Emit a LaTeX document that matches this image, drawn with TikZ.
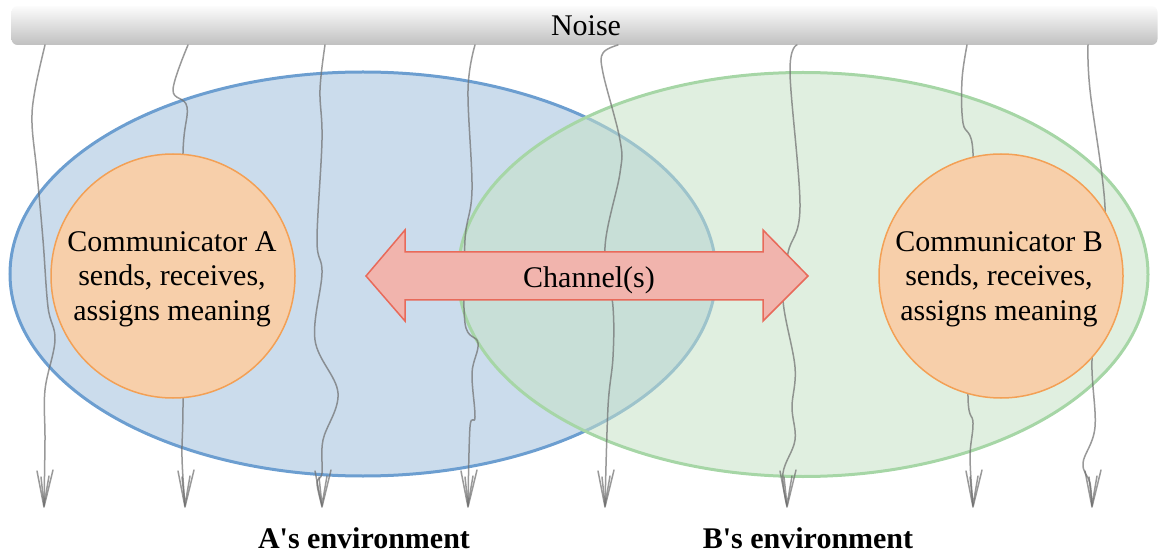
\documentclass[tikz,border=0pt]{standalone}
\usepackage{fontspec}
\setmainfont{Liberation Serif}
\usetikzlibrary{shapes.geometric}
\definecolor{envA}{RGB}{160,191,220}
\definecolor{envAline}{RGB}{108,158,208}
\definecolor{envB}{RGB}{199,226,199}
\definecolor{envBline}{RGB}{166,214,166}
\definecolor{commfill}{RGB}{247,207,170}
\definecolor{commline}{RGB}{243,160,85}
\definecolor{chanfill}{RGB}{241,180,173}
\definecolor{chanline}{RGB}{232,106,90}
\definecolor{noisecol}{RGB}{110,110,110}
\definecolor{bartop}{RGB}{252,252,252}
\definecolor{barbot}{RGB}{192,192,192}
\tikzset{
  envbox/.style={ellipse, inner sep=0pt, line width=3pt, fill opacity=0.55},
  commbox/.style={circle, inner sep=0pt, minimum size=244pt, fill=commfill, draw=commline, line width=1.5pt},
  commtext/.style={inner sep=0pt, align=center, font=\fontsize{30}{34.5}\selectfont},
  plaintext/.style={inner sep=0pt, anchor=base, font=\fontsize{30}{36}\selectfont},
  noiseline/.style={draw=noisecol, line width=1.5pt, draw opacity=0.7, line cap=round, line join=round},
  envlabel/.style={inner sep=0pt, anchor=base, font=\fontsize{30}{36}\selectfont\bfseries},
  noisehead/.pic={
    \draw[noiseline] (-7,-36) -- (0,0) -- (9,-37);
    \draw[noiseline] (-3,-30) -- (0,-2) -- (5,-31);
  }
}
\begin{document}
\begin{tikzpicture}[x=1pt,y=-1pt]
\useasboundingbox (0,0) rectangle (1159,553);
% noise bar
\node[rounded corners=6pt, top color=bartop, bottom color=barbot, minimum width=1146pt, minimum height=39pt, inner sep=0pt] (noise) at (584.5,25.5) {};
\node[plaintext] (noisetxt) at (586,36) {Noise};
% environments
\node[envbox, minimum width=706pt, minimum height=404pt, fill=envA, draw=envAline] (envA) at (363,274) {};
\node[envbox, minimum width=690pt, minimum height=404pt, fill=envB, draw=envBline] (envB) at (803,274.5) {};
% noise lines
\draw[noiseline] plot[smooth, tension=0.6] coordinates {(45,45) (35,90) (32,123) (37,173) (43,240) (48,307) (55,340) (45,390) (45,440) (44,506)};
\draw[noiseline] plot[smooth, tension=0.6] coordinates {(188,45) (173,90) (187,107) (183,153) (183,280) (183,407) (182,457) (185,506)};
\draw[noiseline] plot[smooth, tension=0.6] coordinates {(325,45) (320,90) (322,140) (317,240) (322,273) (315,340) (338,393) (323,440) (322,473) (317,483) (322,506)};
\draw[noiseline] plot[smooth, tension=0.6] coordinates {(475,45) (468,90) (472,190) (465,240) (465,323) (478,343) (472,373) (475,417) (470,427) (468,506)};
\draw[noiseline] plot[smooth, tension=0.6] coordinates {(618,45) (603,53) (603,73) (620,140) (620,173) (605,247) (613,307) (613,357) (608,407) (605,506)};
\draw[noiseline] plot[smooth, tension=0.6] coordinates {(797,45) (790,73) (800,207) (788,253) (783,300) (795,367) (792,407) (795,440) (783,473) (787,506)};
\draw[noiseline] plot[smooth, tension=0.6] coordinates {(967,45) (962,80) (963,123) (973,153) (970,280) (968,397) (973,423) (970,457) (973,506)};
\draw[noiseline] plot[smooth, tension=0.6] coordinates {(1088,45) (1090,90) (1105,207) (1100,290) (1092,360) (1095,427) (1083,463) (1090,483) (1092,506)};
\pic at (44,507) {noisehead};
\pic at (185,507) {noisehead};
\pic at (322,507) {noisehead};
\pic at (468,507) {noisehead};
\pic at (605,507) {noisehead};
\pic at (787,507) {noisehead};
\pic at (973,507) {noisehead};
\pic at (1092,507) {noisehead};
% communicators
\node[commbox] (commA) at (173,276) {};
\node[commtext] (textA) at (172,279) {Communicator A\\sends, receives,\\assigns meaning};
\node[commbox] (commB) at (1001,276) {};
\node[commtext] (textB) at (999,279) {Communicator B\\sends, receives,\\assigns meaning};
% channel
\draw[fill=chanfill, draw=chanline, line width=1.5pt, line join=miter]
  (366,276) -- (405,230) -- (405,252) -- (763,252) -- (763,230) -- (808,276)
  -- (763,321) -- (763,300) -- (405,300) -- (405,321) -- cycle;
\node[plaintext] (chan) at (589,288) {Channel(s)};
% labels
\node[envlabel] (labA) at (364,548) {A\textquotesingle s environment};
\node[envlabel] (labB) at (808,548) {B\textquotesingle s environment};
\end{tikzpicture}
\end{document}
